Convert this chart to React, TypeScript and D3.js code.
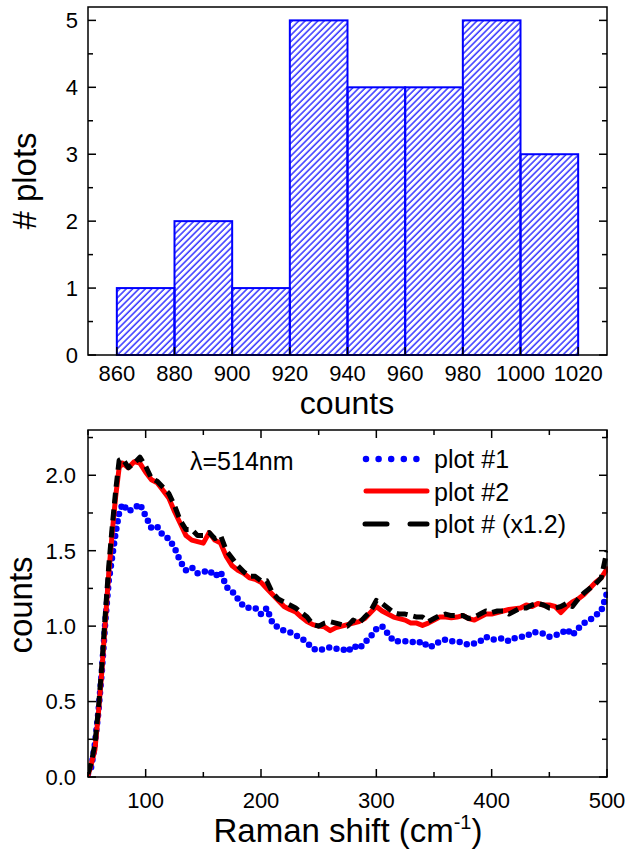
import React from "react";
import * as d3 from "d3";

// ---------- Histogram data ----------
const binStarts = [860, 880, 900, 920, 940, 960, 980, 1000];
const binWidth = 20;
const binCounts = [1, 2, 1, 5, 4, 4, 5, 3];
const histXTicks = [860, 880, 900, 920, 940, 960, 980, 1000, 1020];
const histYTicks = [0, 1, 2, 3, 4, 5];

// ---------- Raman spectra data ----------
const ramanX = [
  50, 53, 56, 59, 62, 65, 68, 71, 74, 77, 80, 85, 90, 95, 100, 105, 110, 115, 120, 125,
  130, 135, 140, 145, 150, 155, 160, 165, 170, 175, 180, 185, 190, 195, 200, 205, 210, 215, 220, 225,
  230, 235, 240, 245, 250, 255, 260, 265, 270, 275, 280, 285, 290, 295, 300, 305, 310, 315, 320, 325,
  330, 335, 340, 345, 350, 355, 360, 365, 370, 375, 380, 385, 390, 395, 400, 405, 410, 415, 420, 425,
  430, 435, 440, 445, 450, 455, 460, 465, 470, 475, 480, 485, 490, 495, 500,
];
const plot1 = [
  0.02, 0.07, 0.22, 0.43, 0.7, 1.03, 1.3, 1.46, 1.62, 1.75, 1.81, 1.76, 1.78, 1.81, 1.73, 1.65, 1.66, 1.6, 1.58, 1.52,
  1.43, 1.37, 1.39, 1.35, 1.36, 1.37, 1.33, 1.36, 1.26, 1.23, 1.18, 1.13, 1.12, 1.12, 1.08, 1.12, 1.02, 0.99, 0.97, 0.96,
  0.94, 0.92, 0.89, 0.85, 0.84, 0.85, 0.86, 0.85, 0.85, 0.83, 0.87, 0.85, 0.89, 0.93, 0.98, 1.0, 0.95, 0.9, 0.9, 0.9,
  0.9, 0.885, 0.9, 0.86, 0.87, 0.9, 0.91, 0.9, 0.9, 0.89, 0.875, 0.885, 0.9, 0.93, 0.91, 0.915, 0.92, 0.9, 0.92, 0.93,
  0.93, 0.96, 0.96, 0.95, 0.93, 0.94, 0.95, 0.98, 0.94, 0.985, 1.02, 1.04, 1.07, 1.1, 1.22,
];
const plot2 = [
  0.01, 0.09, 0.18, 0.42, 0.7, 1.03, 1.35, 1.62, 1.86, 2.05, 2.08, 2.05, 2.09, 2.08, 2.02, 1.97, 1.95, 1.9, 1.85, 1.76,
  1.68, 1.6, 1.57, 1.56, 1.55, 1.62, 1.57, 1.55, 1.46, 1.4, 1.37, 1.35, 1.32, 1.31, 1.29, 1.25, 1.21, 1.17, 1.13, 1.11,
  1.095, 1.06, 1.03, 1.01, 1.0, 0.995, 0.97, 0.99, 1.0, 1.01, 1.02, 1.03, 1.05, 1.09, 1.13, 1.1, 1.08, 1.06, 1.05, 1.04,
  1.02, 1.02, 1.005, 1.02, 1.04, 1.06, 1.06, 1.055, 1.06, 1.07, 1.05, 1.04, 1.06, 1.08, 1.08, 1.09, 1.1, 1.11, 1.115, 1.12,
  1.14, 1.13, 1.15, 1.14, 1.14, 1.13, 1.09, 1.13, 1.16, 1.18, 1.21, 1.25, 1.29, 1.32, 1.38,
];
const plotScaled = [
  0.02, 0.1, 0.22, 0.45, 0.74, 1.08, 1.4, 1.66, 1.9, 2.1, 2.11, 2.05, 2.08, 2.12, 2.06, 1.98, 1.96, 1.92, 1.88, 1.8,
  1.7, 1.64, 1.64, 1.6, 1.6, 1.62, 1.58, 1.6, 1.5, 1.45, 1.4, 1.36, 1.33, 1.33, 1.3, 1.3, 1.22, 1.18, 1.16, 1.14,
  1.12, 1.09, 1.06, 1.01, 1.0, 1.02, 1.03, 1.02, 1.01, 1.0, 1.04, 1.02, 1.06, 1.1, 1.17, 1.15, 1.12, 1.09, 1.08, 1.08,
  1.07, 1.06, 1.06, 1.03, 1.05, 1.07, 1.08, 1.07, 1.07, 1.07, 1.05, 1.06, 1.08, 1.1, 1.09, 1.1, 1.1, 1.08, 1.1, 1.12,
  1.12, 1.14, 1.15, 1.14, 1.12, 1.12, 1.13, 1.15, 1.13, 1.18, 1.22, 1.25, 1.28, 1.32, 1.5,
];
const ramanXTickLabels = [100, 200, 300, 400, 500];
const ramanYTickLabels = ["0.0", "0.5", "1.0", "1.5", "2.0"];
const legendLabels = ["plot #1", "plot #2", "plot # (x1.2)"];

const FONT = "'Liberation Sans', Arial, Helvetica, sans-serif";
const BLUE = "#0000ff";
const RED = "#ff0000";

export default function App() {
  const L = 88, R = 607;
  // top histogram
  const hx = d3.scaleLinear().domain([850, 1030]).range([L, R]);
  const hy = d3.scaleLinear().domain([0, 5.2]).range([355, 7]);
  // bottom spectra
  const rx = d3.scaleLinear().domain([50, 500]).range([L, R]);
  const ry = d3.scaleLinear().domain([0, 2.3]).range([777, 430]);

  const line = (ys: number[]) =>
    d3.line<number>().x((_, i) => rx(ramanX[i])).y((d) => ry(d)).curve(d3.curveLinear)(ys) || "";

  const MAJ = 8, MIN = 5;
  const hMinor = d3.range(0, 5.21, 0.5);
  const rYTicks = d3.range(0, 2.31, 0.25);
  const rXTicks = d3.range(50, 501, 50);

  return (
    <svg width={629} height={856} style={{ position: "fixed", left: 0, top: 0, background: "#fff" }} fontFamily={FONT}>
      <defs>
        <pattern id="hatch" patternUnits="userSpaceOnUse" width={4.5} height={10} patternTransform="rotate(45)">
          <line x1={1} y1={0} x2={1} y2={10} stroke={BLUE} strokeWidth={1.2} />
        </pattern>
        <clipPath id="rclip">
          <rect x={L} y={430} width={R - L + 1} height={777 - 430} />
        </clipPath>
      </defs>
      <rect x={0} y={0} width={629} height={856} fill="#fff" />

      {/* ---------- Histogram ---------- */}
      {binStarts.map((b, i) => (
        <rect key={b} x={hx(b)} y={hy(binCounts[i])} width={hx(b + binWidth) - hx(b)} height={hy(0) - hy(binCounts[i])}
          fill="url(#hatch)" stroke={BLUE} strokeWidth={2} />
      ))}
      <rect x={L} y={7} width={R - L} height={355 - 7} fill="none" stroke="#000" strokeWidth={1.5} />
      {hMinor.map((v) => {
        const major = Math.abs(v - Math.round(v)) < 1e-6;
        const len = major ? MAJ : MIN;
        return (
          <g key={"hy" + v}>
            <line x1={L} x2={L + len} y1={hy(v)} y2={hy(v)} stroke="#000" strokeWidth={1.5} />
            <line x1={R} x2={R - len} y1={hy(v)} y2={hy(v)} stroke="#000" strokeWidth={1.5} />
          </g>
        );
      })}
      {histYTicks.map((v) => (
        <text key={"hyl" + v} x={78} y={hy(v)} dy="0.36em" textAnchor="end" fontSize={22}>{v}</text>
      ))}
      {histXTicks.map((v) => (
        <g key={"hx" + v}>
          <line x1={hx(v)} x2={hx(v)} y1={355} y2={355 - MAJ} stroke="#000" strokeWidth={1.5} />
          <text x={hx(v)} y={381} textAnchor="middle" fontSize={22}>{v}</text>
        </g>
      ))}
      <text x={347} y={414} textAnchor="middle" fontSize={32}>counts</text>
      <text transform="translate(36,181) rotate(-90)" textAnchor="middle" fontSize={33}># plots</text>

      {/* ---------- Raman spectra ---------- */}
      <g clipPath="url(#rclip)">
        <path d={line(plot1)} fill="none" stroke={BLUE} strokeWidth={6.5} strokeLinecap="round" strokeDasharray="0 7.5" />
        <path d={line(plot2)} fill="none" stroke={RED} strokeWidth={5} strokeLinejoin="round" strokeLinecap="round" />
        <path d={line(plotScaled)} fill="none" stroke="#000" strokeWidth={5} strokeDasharray="11 6" strokeLinejoin="round" />
      </g>
      <rect x={L} y={430} width={R - L} height={777 - 430} fill="none" stroke="#000" strokeWidth={1.5} />
      {rYTicks.map((v, i) => {
        const len = i % 2 === 0 ? MAJ : MIN;
        return (
          <g key={"ry" + i}>
            <line x1={L} x2={L + len} y1={ry(v)} y2={ry(v)} stroke="#000" strokeWidth={1.5} />
            <line x1={R} x2={R - len} y1={ry(v)} y2={ry(v)} stroke="#000" strokeWidth={1.5} />
          </g>
        );
      })}
      {rXTicks.map((v) => {
        const len = v % 100 === 0 ? MAJ : MIN;
        return (
          <g key={"rx" + v}>
            <line x1={rx(v)} x2={rx(v)} y1={777} y2={777 - len} stroke="#000" strokeWidth={1.5} />
            <line x1={rx(v)} x2={rx(v)} y1={430} y2={430 + len} stroke="#000" strokeWidth={1.5} />
          </g>
        );
      })}
      {ramanYTickLabels.map((t) => (
        <text key={"ryl" + t} x={76} y={ry(+t)} dy="0.36em" textAnchor="end" fontSize={22}>{t}</text>
      ))}
      {ramanXTickLabels.map((v) => (
        <text key={"rxl" + v} x={rx(v)} y={808} textAnchor="middle" fontSize={22}>{v}</text>
      ))}
      <text x={348} y={842} textAnchor="middle" fontSize={33}>
        Raman shift (cm<tspan fontSize={20} dy={-13}>-1</tspan><tspan dy={13}>)</tspan>
      </text>
      <text transform="translate(32,605) rotate(-90)" textAnchor="middle" fontSize={33}>counts</text>

      {/* annotation and legend */}
      <text x={190} y={470} fontSize={25}>λ=514nm</text>
      <g>
        <line x1={366} x2={417} y1={459} y2={459} stroke={BLUE} strokeWidth={6.5} strokeLinecap="round" strokeDasharray="0 12.6" />
        <line x1={366} x2={427} y1={491} y2={491} stroke={RED} strokeWidth={5} strokeLinecap="round" />
        <line x1={365} x2={387} y1={524} y2={524} stroke="#000" strokeWidth={5} strokeLinecap="round" />
        <line x1={410} x2={427} y1={524} y2={524} stroke="#000" strokeWidth={5} strokeLinecap="round" />
        {legendLabels.map((t, i) => (
          <text key={t} x={434} y={468 + i * 32.5} fontSize={25}>{t}</text>
        ))}
      </g>
    </svg>
  );
}
